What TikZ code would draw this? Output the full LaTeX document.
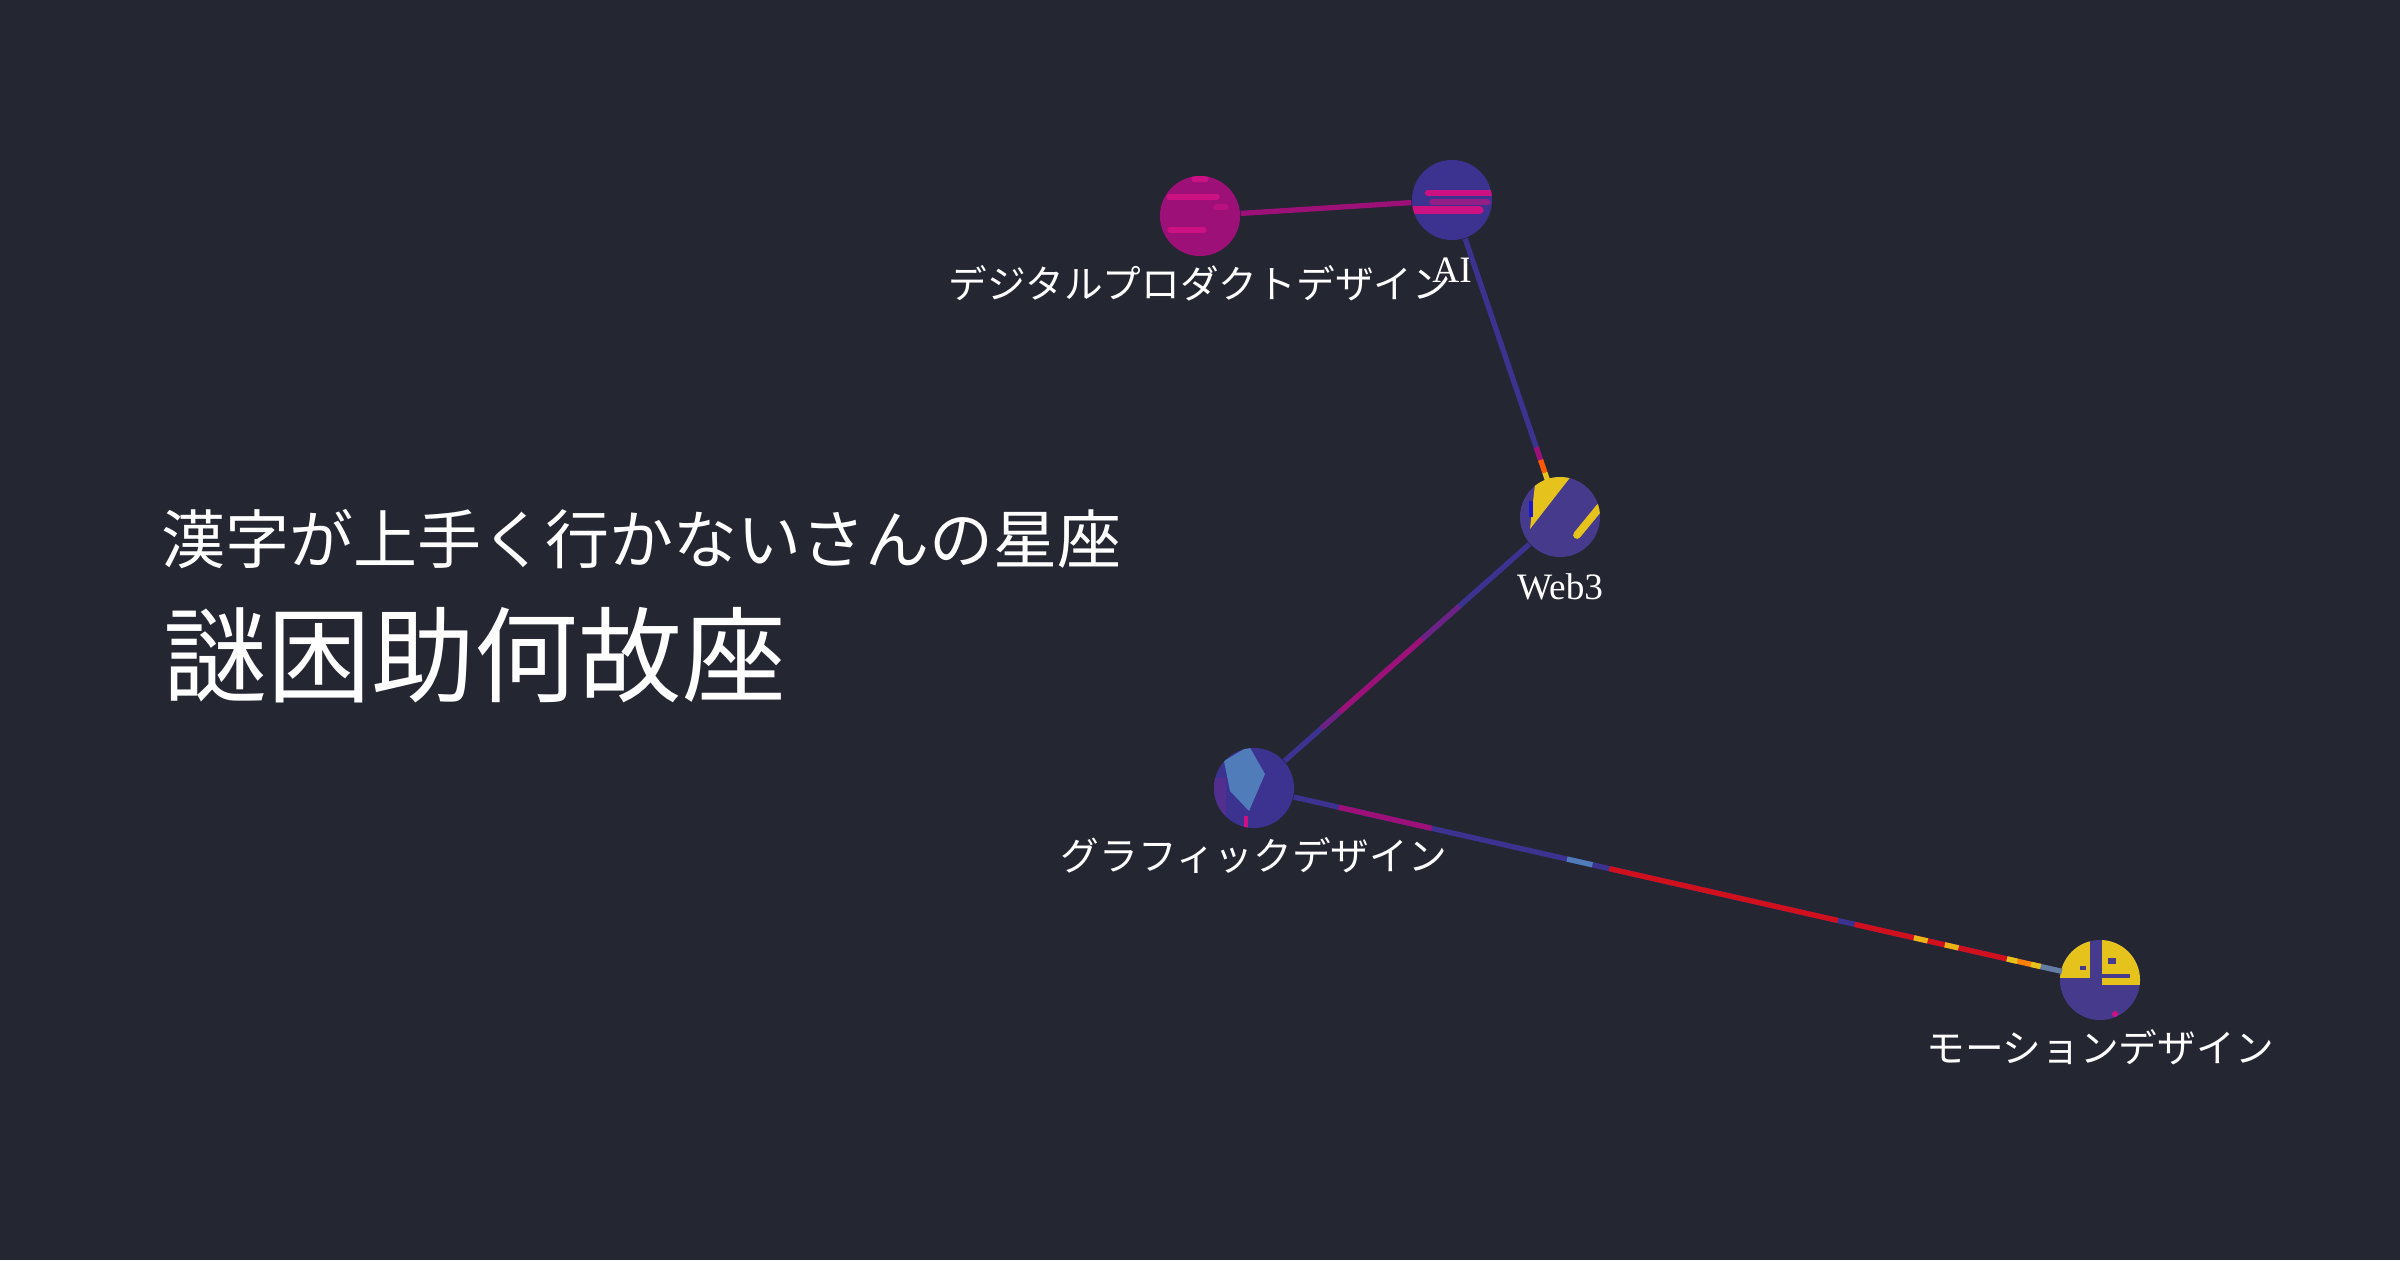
\documentclass[tikz,border=0pt]{standalone}
\usepackage{fontspec}
\setmainfont{Liberation Serif}
\newfontfamily\jp{Noto Sans CJK JP}
\usepackage{tikz}
\usetikzlibrary{positioning,calc}
\usepackage{xcolor}
\definecolor{bgdark}{RGB}{36,38,50}
\definecolor{starmag}{RGB}{156,16,120}
\definecolor{magbright}{RGB}{204,18,130}
\definecolor{starind}{RGB}{60,51,145}
\definecolor{webind}{RGB}{70,58,140}
\definecolor{staryel}{RGB}{230,194,28}
\definecolor{starblue}{RGB}{80,124,186}
\definecolor{starred}{RGB}{208,16,28}

\begin{document}
\begin{tikzpicture}[x=0.01cm,y=-0.01cm,node distance=0.1cm,
  star/.style={circle,minimum size=0.8cm,inner sep=0pt},
  tag/.style={text=white,inner sep=0pt,text height=0.88em,text depth=0.12em,font=\jp\fontsize{11}{13}\selectfont},
  latintag/.style={tag,font=\fontsize{10.6}{13}\selectfont},
  headline/.style={anchor=west,text=white,inner sep=0pt,text height=0.88em,text depth=0.12em},
  link/.style={line width=1.5pt},
  streak/.style={line width=1.5pt,line cap=round}]
\fill[bgdark] (0,0) rectangle (2400,1260);
\useasboundingbox (0,0) rectangle (2400,1260);

\node (title) [headline,font=\jp\fontsize{18.2}{22}\selectfont] at (161,550) {漢字が上手く行かないさんの星座};
\node (sub) [headline,font=\jp\fontsize{29.5}{34}\selectfont] at (163,681) {謎困助何故座};

\node (dpd) [star,fill=starmag] at (1200,216) {};
\node (ai) [star,fill=starind] at (1452,200) {};
\node (web) [star,fill=webind] at (1560,517) {};
\node (gfx) [star,fill=starind] at (1254,788) {};
\node (mot) [star,fill=webind] at (2100,980) {};

\begin{scope}
\clip (dpd) circle (0.4cm);
\draw[streak,magbright] ($(dpd)+(-31,-19)$) -- ($(dpd)+(17,-19)$);
\draw[streak,magbright] ($(dpd)+(-30,14)$) -- ($(dpd)+(4,14)$);
\draw[streak,magbright] ($(dpd)+(-6,-37)$) -- ($(dpd)+(6,-37)$);
\draw[streak,magbright!60!starmag] ($(dpd)+(16,-9)$) -- ($(dpd)+(26,-9)$);
\end{scope}
\begin{scope}
\clip (ai) circle (0.4cm);
\draw[streak,magbright,line width=1.8pt] ($(ai)+(-24,-7)$) -- ($(ai)+(40,-7)$);
\draw[streak,starind!40!magbright,line width=1.5pt] ($(ai)+(-20,2)$) -- ($(ai)+(36,2)$);
\draw[streak,magbright,line width=2pt] ($(ai)+(-40,10)$) -- ($(ai)+(28,10)$);
\end{scope}
\begin{scope}
\clip (web) circle (0.4cm);
\fill[staryel] ($(web)+(-24,-42)$) -- ($(web)+(12,-42)$) -- ($(web)+(-30,12)$) -- cycle;
\draw[line width=1pt,blue!50!starind] ($(web)+(-29,-16)$) -- ($(web)+(-29,0)$);
\draw[streak,staryel,line width=2.2pt] ($(web)+(40,-10)$) -- ($(web)+(17,18)$);
\end{scope}
\begin{scope}
\clip (gfx) circle (0.4cm);
\fill[starind!85!magbright] ($(gfx)+(-42,-10)$) rectangle ($(gfx)+(-28,30)$);
\fill[starblue] ($(gfx)+(-30,-27)$) -- ($(gfx)+(-5,-42)$) -- ($(gfx)+(11,-14)$) -- ($(gfx)+(-5,23)$) -- ($(gfx)+(-24,3)$) -- cycle;
\draw[line width=1pt,magbright] ($(gfx)+(-8,28)$) -- ($(gfx)+(-8,42)$);
\end{scope}
\begin{scope}
\clip (mot) circle (0.4cm);
\fill[staryel] ($(mot)+(-42,-42)$) rectangle ($(mot)+(-10,-2)$);
\fill[staryel] ($(mot)+(2,-42)$) rectangle ($(mot)+(42,5)$);
\fill[webind] ($(mot)+(-20,-14)$) rectangle ($(mot)+(-14,-10)$);
\fill[webind] ($(mot)+(8,-22)$) rectangle ($(mot)+(16,-16)$);
\fill[webind] ($(mot)+(2,-6)$) rectangle ($(mot)+(30,-2)$);
\fill[magbright] ($(mot)+(15,34)$) circle (0.03cm);
\end{scope}

\node (dpdl) [tag,below=of dpd] {デジタルプロダクトデザイン};
\node (ail) [latintag,below=of ai] {AI};
\node (webl) [latintag,below=of web] {Web3};
\node (gfxl) [tag,below=of gfx] {グラフィックデザイン};
\node (motl) [tag,below=of mot] {モーションデザイン};

\draw[link,starmag] (dpd) -- (ai);
\draw[link,starind] (ai) -- (web);
\draw[link,starind] (web) -- (gfx);
\draw[link,starind] (gfx) -- (mot);

\draw[link,starmag] ($(ai)!0.78!(web)$) -- ($(ai)!0.82!(web)$);
\draw[link,orange!70!red] ($(ai)!0.82!(web)$) -- ($(ai)!0.86!(web)$);
\draw[link,staryel] ($(ai)!0.86!(web)$) -- ($(ai)!0.885!(web)$);

\draw[link,starind!50!starmag] ($(web)!0.33!(gfx)$) -- ($(web)!0.45!(gfx)$);
\draw[link,starmag] ($(web)!0.45!(gfx)$) -- ($(web)!0.72!(gfx)$);
\draw[link,starind!50!starmag] ($(web)!0.72!(gfx)$) -- ($(web)!0.78!(gfx)$);

\draw[link,starmag] ($(gfx)!0.10!(mot)$) -- ($(gfx)!0.21!(mot)$);
\draw[link,starblue] ($(gfx)!0.37!(mot)$) -- ($(gfx)!0.40!(mot)$);
\draw[link,starred] ($(gfx)!0.42!(mot)$) -- ($(gfx)!0.69!(mot)$);
\draw[link,starred] ($(gfx)!0.71!(mot)$) -- ($(gfx)!0.89!(mot)$);
\draw[link,staryel!80!orange,dash pattern=on 4pt off 5pt] ($(gfx)!0.78!(mot)$) -- ($(gfx)!0.85!(mot)$);
\draw[link,orange] ($(gfx)!0.89!(mot)$) -- ($(gfx)!0.93!(mot)$);
\draw[link,staryel,dash pattern=on 3pt off 4pt] ($(gfx)!0.89!(mot)$) -- ($(gfx)!0.93!(mot)$);
\draw[link,starblue!60!gray] ($(gfx)!0.93!(mot)$) -- ($(gfx)!0.955!(mot)$);
\end{tikzpicture}
\end{document}
